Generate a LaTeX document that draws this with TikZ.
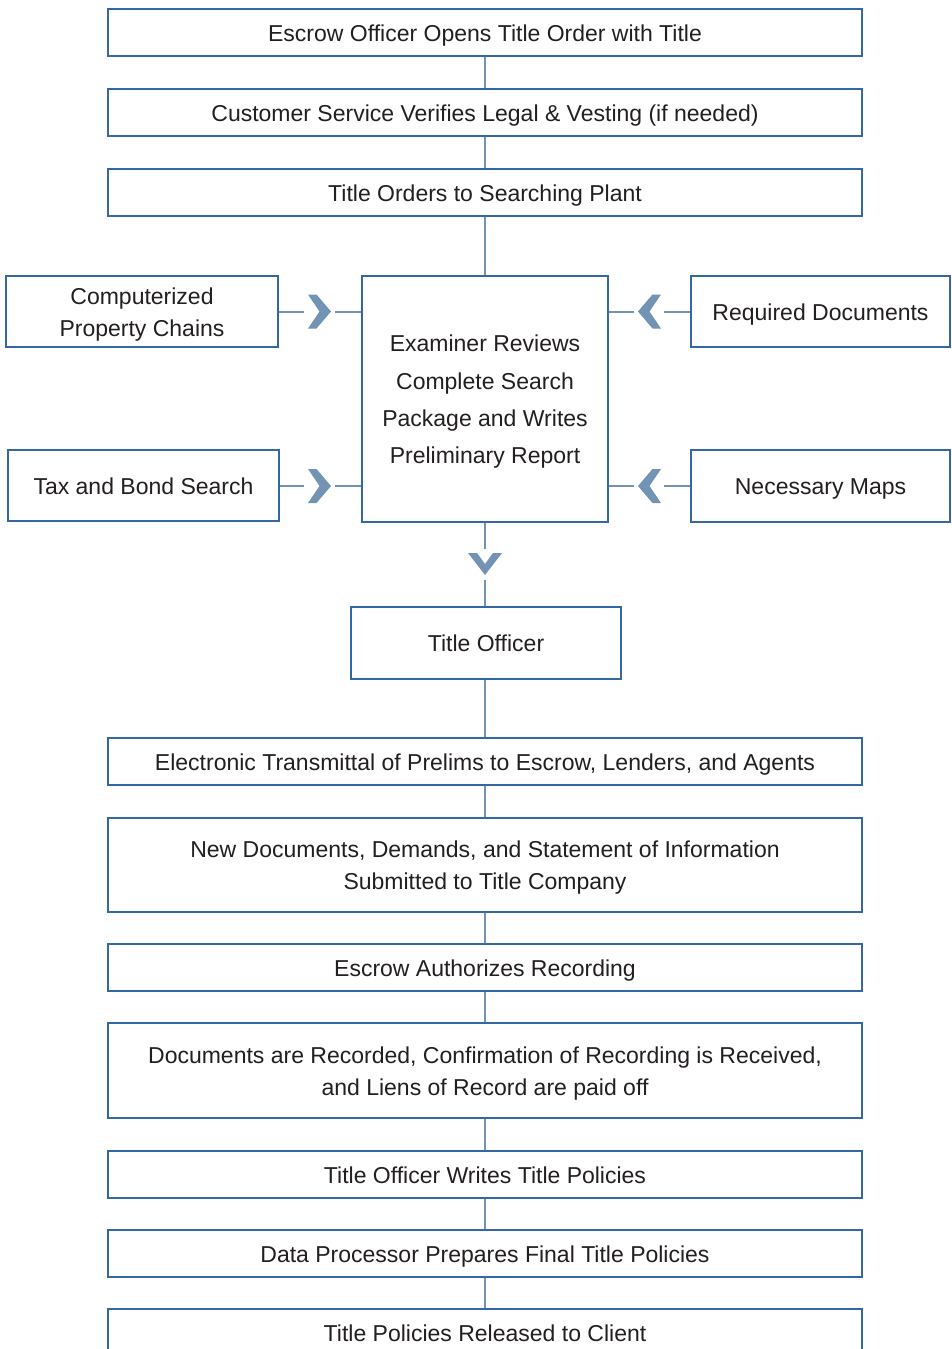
\documentclass[tikz,border=0pt]{standalone}
\usepackage{fontspec}
\setmainfont{Liberation Sans}
\usetikzlibrary{calc}
\definecolor{boxblue}{HTML}{3568A3}
\definecolor{connblue}{HTML}{7393B5}
\definecolor{txt}{HTML}{231F20}
\tikzset{
  lbl/.style={text=txt, align=center, inner sep=0pt, yshift=-2.25pt, font=\fontsize{17.25}{24}\selectfont},
  lblone/.style={lbl, text height=12.4pt, text depth=3.6pt},
  frame/.style={draw=boxblue, line width=1pt, fill=white, inner sep=0pt},
  box/.style={frame, label={[lblone]center:{#1}}},
  mbox/.style={frame, label={[lbl]center:{#1}}},
  wide/.style={box={#1}, minimum width=565.5pt, minimum height=35.25pt},
  mwide/.style={mbox={#1}, minimum width=565.5pt},
  conn/.style={draw=connblue, line width=1.5pt},
  chevfill/.style={fill=connblue},
  chevR/.pic={\fill[chevfill] (-11.5,-17) -- (-3,-17) -- (11.5,0) -- (-3,17) -- (-11.5,17) -- (0,0) -- cycle;},
  chevL/.pic={\fill[chevfill] (11.5,-17) -- (3,-17) -- (-11.5,0) -- (3,17) -- (11.5,17) -- (0,0) -- cycle;},
  chevD/.pic={\fill[chevfill] (-17,-11) -- (-8,-11) -- (0,0) -- (8,-11) -- (17,-11) -- (0,11) -- cycle;}
}
\begin{document}
\begin{tikzpicture}[x=0.75pt,y=-0.75pt]
\useasboundingbox (0,0) rectangle (951,1349);
\clip (0,0) rectangle (951,1349);
% main column
\node[wide={Escrow Officer Opens Title Order with Title}] (t1) at (485,32.5) {};
\node[wide={Customer Service Verifies Legal \& Vesting (if needed)}] (t2) at (485,112.5) {};
\node[wide={Title Orders to Searching Plant}] (t3) at (485,192.5) {};
\node[frame, minimum width=184.5pt, minimum height=184.5pt,
  label={[lbl, font=\fontsize{17.25}{28}\selectfont]center:{Examiner Reviews\\Complete Search\\Package and Writes\\Preliminary Report}}] (exam) at (485,399) {};
\node[mbox={Computerized\\Property Chains}, minimum width=204pt, minimum height=53.25pt] (comp) at (142,311.5) {};
\node[box={Required Documents}, minimum width=194.25pt, minimum height=53.25pt] (req) at (820.5,311.5) {};
\node[box={Tax and Bond Search}, minimum width=203.25pt, minimum height=53.25pt] (tax) at (143.5,485.5) {};
\node[box={Necessary Maps}, minimum width=194.25pt, minimum height=54pt] (maps) at (820.5,486) {};
\node[box={Title Officer}, minimum width=202.5pt, minimum height=54pt] (tofficer) at (486,643) {};
\node[wide={Electronic Transmittal of Prelims to Escrow, Lenders, and Agents}] (elec) at (485,761.5) {};
\node[mwide={New Documents, Demands, and Statement of Information\\Submitted to Title Company}, minimum height=70.5pt] (newdoc) at (485,865) {};
\node[wide={Escrow Authorizes Recording}] (escauth) at (485,967.5) {};
\node[mwide={Documents are Recorded, Confirmation of Recording is Received,\\and Liens of Record are paid off}, minimum height=71.25pt] (rec) at (485,1070.5) {};
\node[wide={Title Officer Writes Title Policies}] (writes) at (485,1174.5) {};
\node[wide={Data Processor Prepares Final Title Policies}] (dp) at (485,1253.5) {};
\node[wide={Title Policies Released to Client}] (rel) at (485,1332.5) {};
% vertical connectors
\draw[conn] (t1.south) -- (t2.north);
\draw[conn] (t2.south) -- (t3.north);
\draw[conn] (t3.south) -- (exam.north);
\draw[conn] (elec.north |- tofficer.south) -- (elec.north);
\draw[conn] (elec.south) -- (newdoc.north);
\draw[conn] (newdoc.south) -- (escauth.north);
\draw[conn] (escauth.south) -- (rec.north);
\draw[conn] (rec.south) -- (writes.north);
\draw[conn] (writes.south) -- (dp.north);
\draw[conn] (dp.south) -- (rel.north);
% examiner -> title officer
\draw[conn] (exam.south) -- ++(0,26) coordinate (d1);
\pic at (485,564) {chevD};
\draw[conn] (tofficer.north -| exam.south) coordinate (d2) -- ++(0,-26);
% left inputs
\draw[conn] (comp.east) -- ++(25,0) coordinate (c1);
\pic at (319.5,311.5) {chevR};
\draw[conn] (comp.east -| exam.west) coordinate (c2) -- ++(-26,0);
\draw[conn] (tax.east) -- ++(24,0) coordinate (c3);
\pic at (319.5,486) {chevR};
\draw[conn] (tax.east -| exam.west) coordinate (c4) -- ++(-26,0);
% right inputs
\draw[conn] (req.west) -- ++(-26,0) coordinate (c5);
\pic at (649.5,311.5) {chevL};
\draw[conn] (req.west -| exam.east) coordinate (c6) -- ++(25,0);
\draw[conn] (maps.west) -- ++(-26,0) coordinate (c7);
\pic at (649.5,486) {chevL};
\draw[conn] (maps.west -| exam.east) coordinate (c8) -- ++(25,0);
\end{tikzpicture}
\end{document}
